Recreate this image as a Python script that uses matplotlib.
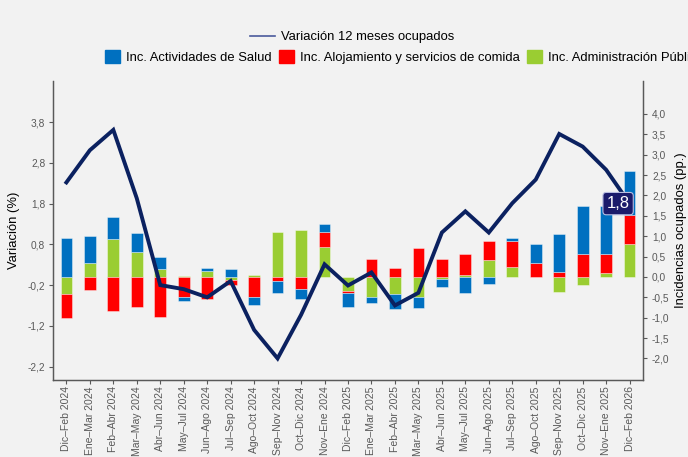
import matplotlib
matplotlib.use('Agg')
import matplotlib.pyplot as plt
import numpy as np
from matplotlib.lines import Line2D
from matplotlib.patches import Patch
from matplotlib.ticker import FuncFormatter

plt.rcParams['font.family'] = ['Liberation Sans', 'DejaVu Sans']

# periodos moviles
periodos = ['Dic–Feb 2024', 'Ene–Mar 2024', 'Feb–Abr 2024', 'Mar–May 2024', 'Abr–Jun 2024',
            'May–Jul 2024', 'Jun–Ago 2024', 'Jul–Sep 2024', 'Ago–Oct 2024', 'Sep–Nov 2024',
            'Oct–Dic 2024', 'Nov–Ene 2024', 'Dic–Feb 2025', 'Ene–Mar 2025', 'Feb–Abr 2025',
            'Mar–May 2025', 'Abr–Jun 2025', 'May–Jul 2025', 'Jun–Ago 2025', 'Jul–Sep 2025',
            'Ago–Oct 2025', 'Sep–Nov 2025', 'Oct–Dic 2025', 'Nov–Ene 2025', 'Dic–Feb 2026']

# incidencias (pp.)
salud = [0.95, 0.68, 0.53, 0.47, 0.28, -0.10, 0.06, 0.20, -0.21, -0.29, -0.24, 0.18, -0.35,
         -0.14, -0.36, -0.27, -0.19, -0.40, -0.17, 0.06, 0.46, 0.94, 1.16, 1.18, 1.10]
alojamiento = [-0.59, -0.33, -0.84, -0.74, -0.98, -0.49, -0.54, -0.14, -0.49, -0.11, -0.29, 0.37,
               -0.04, 0.43, 0.23, 0.70, 0.43, 0.52, 0.45, 0.65, 0.34, 0.12, 0.57, 0.48, 0.71]
administracion = [-0.41, 0.33, 0.94, 0.60, 0.20, 0.03, 0.15, -0.07, 0.04, 1.11, 1.15, 0.74, -0.35,
                  -0.50, -0.43, -0.49, -0.06, 0.05, 0.42, 0.24, 0.0, -0.36, -0.19, 0.09, 0.80]

# variacion 12 meses (%)
variacion = [2.32, 3.11, 3.61, 1.93, -0.20, -0.30, -0.50, -0.10, -1.30, -2.00, -0.93, 0.31, -0.21,
             0.11, -0.70, -0.39, 1.09, 1.61, 1.09, 1.81, 2.39, 3.51, 3.20, 2.63, 1.80]

c_salud = '#0070C0'
c_aloj = '#FF0000'
c_admin = '#9ACD32'
c_line = '#0B2160'
gris = '#595959'
fondo = '#F2F2F2'

fig = plt.figure(figsize=(6.88, 4.57), dpi=100, facecolor=fondo)
ax = fig.add_axes([53/688, 1 - 380/457, (643 - 53)/688, (380 - 81)/457])
ax.set_facecolor(fondo)
ax2 = ax.twinx()

x = np.arange(len(periodos))
w = 0.5
pos = np.zeros(len(x))
neg = np.zeros(len(x))
# orden de apilado: administracion, alojamiento, salud
for vals, col in [(administracion, c_admin), (alojamiento, c_aloj), (salud, c_salud)]:
    v = np.array(vals)
    bottom = np.where(v >= 0, pos, neg)
    ax2.bar(x, v, w, bottom=bottom, color=col, edgecolor=(1, 1, 1, 0.45), linewidth=0.6, zorder=2)
    pos = pos + np.where(v >= 0, v, 0)
    neg = neg + np.where(v < 0, v, 0)

ax2.set_zorder(1)
ax.set_zorder(2)
ax.patch.set_visible(False)
ax.plot(x, variacion, color=c_line, lw=2.8, solid_joinstyle='miter', zorder=3)

ax.annotate('1,8', (x[-1], variacion[-1]), xytext=(-8.3, 0), textcoords='offset points',
            ha='center', va='center', color='white', fontsize=12, zorder=5,
            bbox=dict(boxstyle='round,pad=0.22,rounding_size=0.2', fc='#1B1B6B', ec='#B8BCE0', lw=0.8))

ylo, yhi = -2.53, 4.81
ax.set_ylim(ylo, yhi)
ax2.set_ylim(ylo, yhi)
ax.set_xlim(-0.57, len(x) - 1 + 0.57)

coma = FuncFormatter(lambda v, p: ('%.1f' % v).replace('.', ','))
ax.set_yticks([3.8, 2.8, 1.8, 0.8, -0.2, -1.2, -2.2])
ax.yaxis.set_major_formatter(coma)
ax2.set_yticks(np.arange(-2.0, 4.01, 0.5))
ax2.yaxis.set_major_formatter(coma)

ax.set_xticks(x)
ax.set_xticklabels(periodos, rotation=90)

for a in (ax, ax2):
    a.tick_params(colors=gris, labelsize=7.3, length=3, width=0.8)
    a.spines['top'].set_visible(False)
    for s in ('left', 'right', 'bottom'):
        a.spines[s].set_color(gris)
        a.spines[s].set_linewidth(0.9)
ax.tick_params(axis='x', pad=1.5, labelsize=7.5)
ax.tick_params(axis='y', pad=2.5)

ax.set_ylabel('Variación (%)', fontsize=9.4, color='black', labelpad=6)
ax2.set_ylabel('Incidencias ocupados (pp.)', fontsize=9.4, color='black', labelpad=4)

# leyendas
h_line = [Line2D([], [], color='#4A5A9C', lw=1.2)]
fig.legend(handles=h_line, labels=['Variación 12 meses ocupados'], loc='center left',
           bbox_to_anchor=(250/688, 1 - 37/457), frameon=False, borderpad=0, borderaxespad=0,
           handlelength=1.9, handletextpad=0.5, fontsize=9.4)
h_bars = [Patch(color=c_salud), Patch(color=c_aloj), Patch(color=c_admin)]
fig.legend(handles=h_bars,
           labels=['Inc. Actividades de Salud', 'Inc. Alojamiento y servicios de comida',
                   'Inc. Administración Pública'],
           loc='center left', bbox_to_anchor=(105/688, 1 - 57/457), ncol=3, frameon=False,
           borderpad=0, borderaxespad=0, handlelength=1.15, handleheight=1.15,
           handletextpad=0.45, columnspacing=0.55, fontsize=9.4)

fig.savefig('out.png', dpi=100, facecolor=fondo)
